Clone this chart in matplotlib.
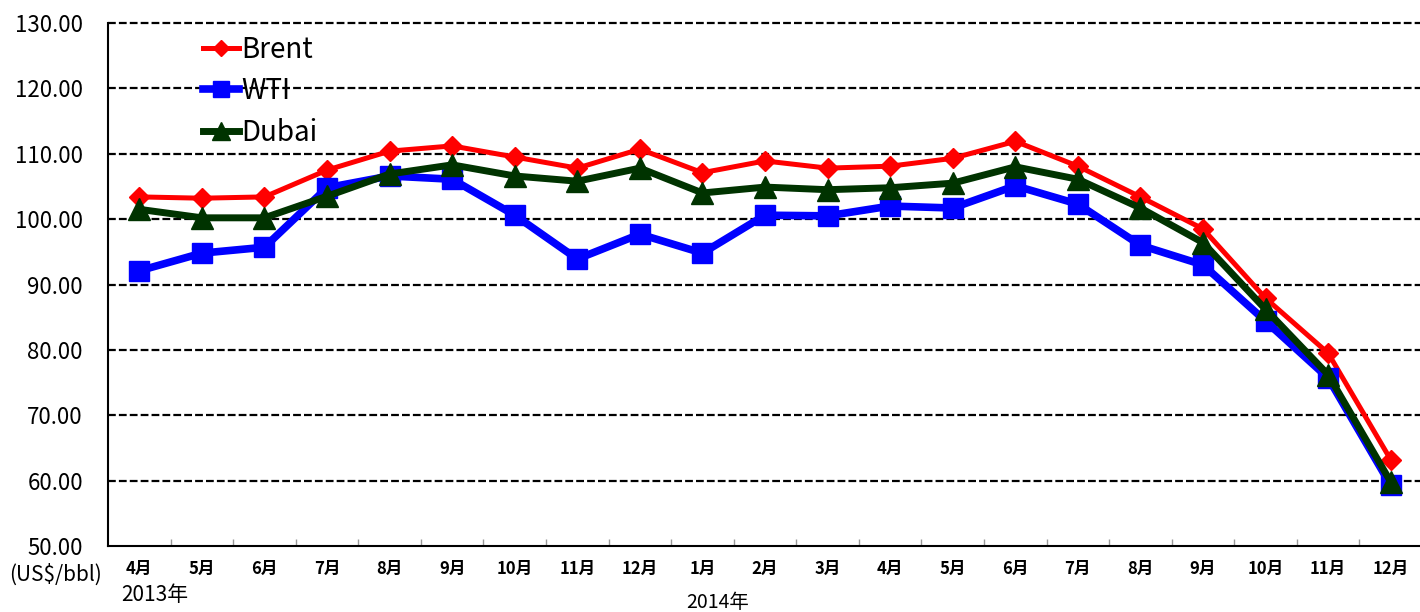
import matplotlib
matplotlib.use("Agg")
import matplotlib.pyplot as plt
import matplotlib.transforms as mtransforms
import numpy as np

plt.rcParams['font.family'] = ['Noto Sans CJK JP', 'DejaVu Sans']

months = ['4月', '5月', '6月', '7月', '8月', '9月', '10月', '11月', '12月',
          '1月', '2月', '3月', '4月', '5月', '6月', '7月', '8月', '9月', '10月', '11月', '12月']

brent = [103.4, 103.2, 103.4, 107.5, 110.4, 111.2, 109.5, 107.8, 110.7,
         107.1, 108.9, 107.8, 108.1, 109.3, 111.9, 108.1, 103.4, 98.5, 87.9, 79.5, 63.2]
wti = [92.1, 94.8, 95.7, 104.8, 106.6, 106.1, 100.6, 93.9, 97.7,
       94.8, 100.6, 100.5, 102.0, 101.7, 105.1, 102.3, 96.0, 93.0, 84.4, 75.7, 59.3]
dubai = [101.5, 100.2, 100.2, 103.5, 106.9, 108.3, 106.6, 105.8, 107.8,
         104.0, 104.9, 104.5, 104.8, 105.5, 108.0, 106.1, 101.7, 96.4, 86.2, 76.2, 59.8]

y_ticks = np.arange(50, 131, 10)

fig = plt.figure(figsize=(14.2, 6.12), dpi=100)
ax = fig.add_axes([108 / 1420, 1 - 546 / 612, 1314 / 1420, 523 / 612])

x = np.arange(len(months))

# grid lines (dashed, drawn behind the series)
for v in y_ticks[1:]:
    ax.axhline(v, color='black', linestyle=(0, (3.5, 1.4)), linewidth=1.6, zorder=1, clip_on=False)

ax.plot(x, brent, color='#ff0000', linewidth=3.6, marker='D', markersize=10,
        label='Brent', zorder=3)
ax.plot(x, wti, color='#0000ff', linewidth=5.5, marker='s', markersize=15,
        label='WTI', zorder=4)
ax.plot(x, dubai, color='#003300', linewidth=5.0, marker='^', markersize=16,
        label='Dubai', zorder=5)

ax.set_xlim(-0.5, len(months) - 0.5)
ax.set_ylim(50, 130)
ax.set_yticks(y_ticks)
ax.set_yticklabels([f'{v:.2f}' for v in y_ticks], fontsize=16)
ax.tick_params(axis='y', length=0, pad=18)

ax.set_xticks(x)
ax.set_xticklabels(months, fontsize=12, fontweight='bold')
ax.tick_params(axis='x', which='major', length=0, pad=10)
ax.set_xticks(np.arange(0.5, len(months) - 1, 1), minor=True)
ax.tick_params(axis='x', which='minor', direction='in', length=5, color='#999999', width=1)

for side in ['top', 'right']:
    ax.spines[side].set_visible(False)
ax.spines['left'].set_linewidth(1.5)
ax.spines['bottom'].set_linewidth(1.5)

trans = mtransforms.blended_transform_factory(ax.transData, ax.transAxes)
ax.text(-0.6, -0.034, '(US$/bbl)', transform=trans, ha='right', va='top', fontsize=15)
ax.text(0.25, -0.072, '2013年', transform=trans, ha='center', va='top', fontsize=15)
ax.text(9.25, -0.088, '2014年', transform=trans, ha='center', va='top', fontsize=14)

leg = ax.legend(loc='upper left', bbox_to_anchor=(0.072, 0.978), frameon=False,
                fontsize=20, handlelength=1.3, handletextpad=0.1, labelspacing=0.42,
                borderaxespad=0, borderpad=0, markerscale=0.8)

fig.savefig('out.png', dpi=100)
